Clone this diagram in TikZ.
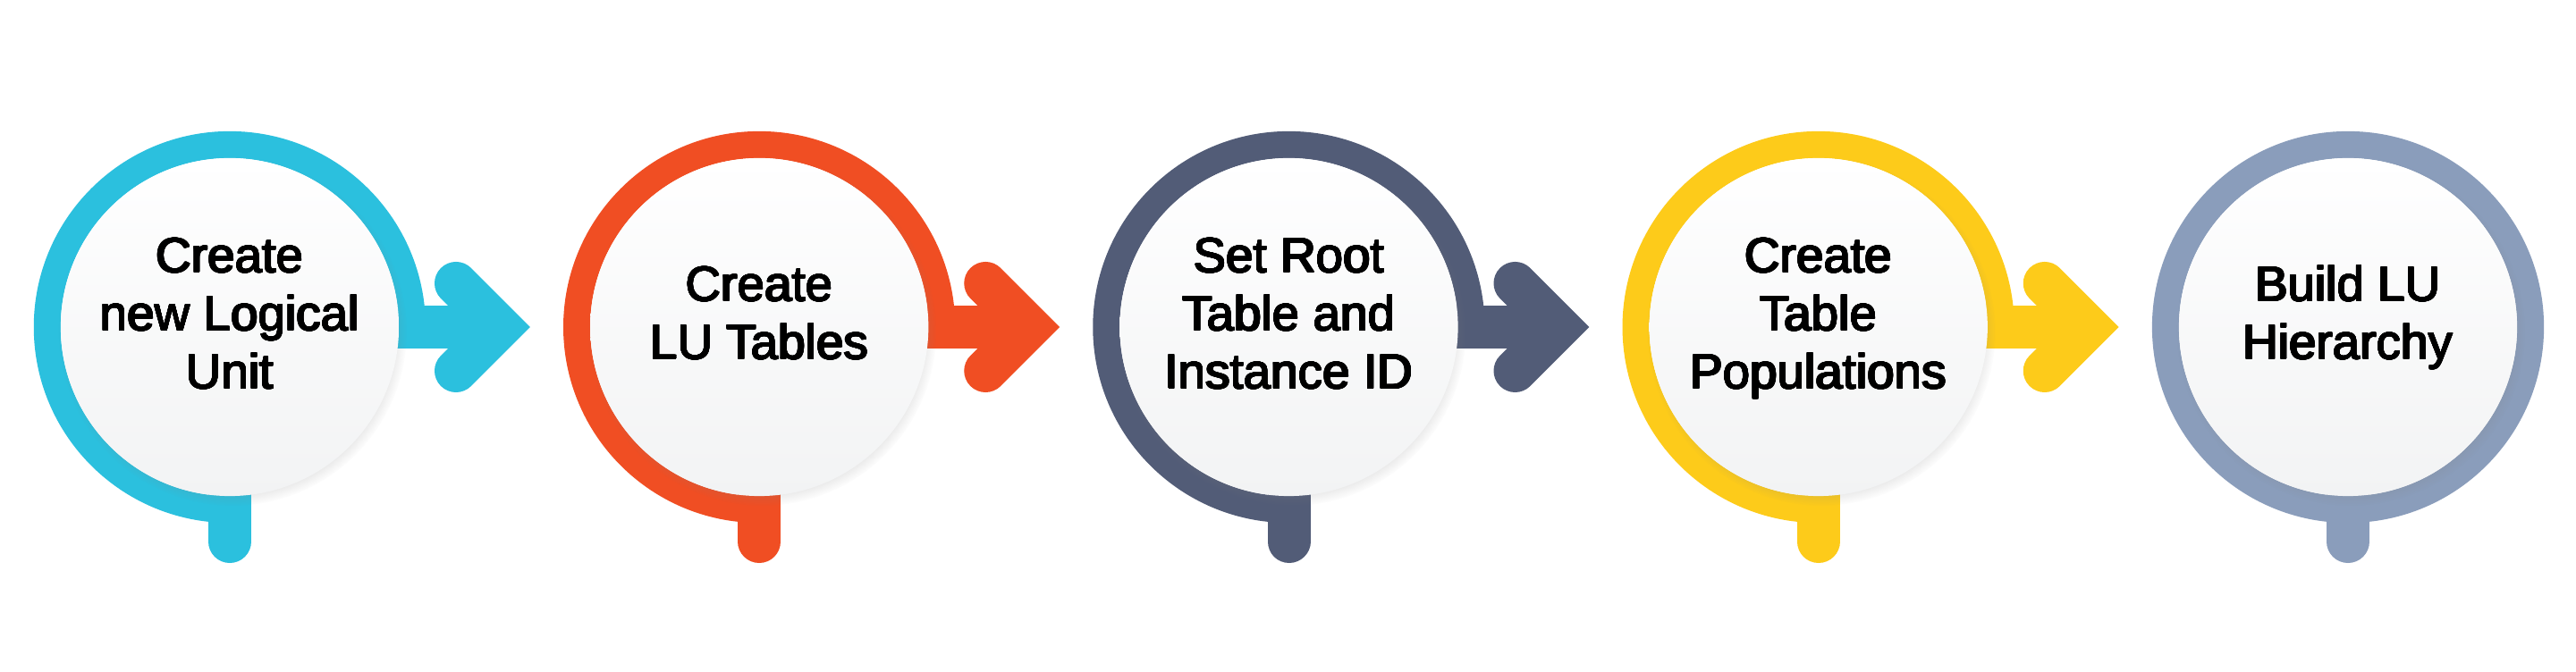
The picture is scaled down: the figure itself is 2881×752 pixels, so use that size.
\documentclass[tikz,border=0pt]{standalone}
\usepackage{fontspec}
\usepackage[copies]{contour}
\contourlength{0.22pt}
\contournumber{16}
\newfontfamily\lblfont{Liberation Sans}
\usetikzlibrary{shadows,fadings}
\definecolor{cyanc}{HTML}{2BC0DE}
\definecolor{redc}{HTML}{F04E23}
\definecolor{slatec}{HTML}{525C77}
\definecolor{yelc}{HTML}{FDCB1A}
\definecolor{bluegc}{HTML}{8A9DBB}
\definecolor{discbot}{HTML}{F2F3F4}
\newcommand{\heavy}[1]{\contour{black}{#1}}
\begin{document}
\begin{tikzpicture}[x=0.01cm,y=0.01cm,
  ringline/.style={line width=0.30cm},
  stemline/.style={line width=0.48cm, line cap=round},
  shaftline/.style={line width=0.48cm},
  chevline/.style={line width=0.48cm, line cap=round, line join=miter},
  disc/.style={circle, minimum size=3.78cm, inner sep=0pt, draw=none,
    top color=white, bottom color=discbot,
    circular drop shadow={shadow xshift=0.03cm, shadow yshift=-0.05cm, opacity=0.35, shadow scale=1.03}},
  lbl/.style={font=\lblfont\fontsize{15.6pt}{18pt}\selectfont, anchor=base, inner sep=0pt, text=black}
]
\useasboundingbox (0,0) rectangle (2881,752);
\fill[white] (0,0) rectangle (2881,752);
\foreach \i/\x/\c in {1/257/cyanc, 2/849.25/redc, 3/1441.5/slatec, 4/2033.75/yelc}{
  \coordinate (c\i) at (\x,386);
  \draw[stemline, draw=\c] (c\i) -- ++(0,-240);
  \draw[ringline, draw=\c] (c\i) ++(204,0) arc[start angle=0, end angle=270, radius=2.04cm];
  \draw[shaftline, draw=\c] (c\i) -- ++(302,0);
  \draw[chevline, draw=\c] (c\i) ++(253,49) -- ++(49,-49) -- ++(-49,-49);
  \node[disc] (d\i) at (c\i) {};
}
\coordinate (c5) at (2626,386);
\draw[stemline, draw=bluegc] (c5) -- ++(0,-240);
\draw[ringline, draw=bluegc] (c5) circle[radius=2.04cm];
\node[disc] (d5) at (c5) {};
% labels
\node[lbl] (t1a) at (257,447) {\heavy{Create}};
\node[lbl] (t1b) at (257,382) {\heavy{new Logical}};
\node[lbl] (t1c) at (257,317) {\heavy{Unit}};
\node[lbl] (t2a) at (849.25,415) {\heavy{Create}};
\node[lbl] (t2b) at (849.25,350) {\heavy{LU Tables}};
\node[lbl] (t3a) at (1441.5,447) {\heavy{Set Root}};
\node[lbl] (t3b) at (1441.5,382) {\heavy{Table and}};
\node[lbl] (t3c) at (1441.5,317) {\heavy{Instance ID}};
\node[lbl] (t4a) at (2033.75,447) {\heavy{Create}};
\node[lbl] (t4b) at (2033.75,382) {\heavy{Table}};
\node[lbl] (t4c) at (2033.75,317) {\heavy{Populations}};
\node[lbl] (t5a) at (2626,415) {\heavy{Build LU}};
\node[lbl] (t5b) at (2626,350) {\heavy{Hierarchy}};
\end{tikzpicture}
\end{document}
